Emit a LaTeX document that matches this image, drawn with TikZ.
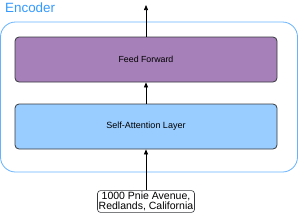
\documentclass[tikz,border=0pt]{standalone}
\usepackage{fontspec}
\setmainfont{Liberation Sans}
\usetikzlibrary{arrows.meta}
\definecolor{encblue}{RGB}{51,153,255}
\definecolor{encline}{RGB}{102,178,255}
\definecolor{ffpurple}{RGB}{166,128,184}
\definecolor{sablue}{RGB}{153,204,255}
\definecolor{boxline}{RGB}{54,57,61}
\begin{document}
\begin{tikzpicture}[x=1pt,y=-1pt,
  layer/.style={draw=boxline,line width=0.8pt,rounded corners=4pt,minimum width=262pt,minimum height=45pt,inner sep=0pt},
  inbox/.style={draw=boxline,line width=0.6pt,rounded corners=3pt,fill=white,align=center,font=\fontsize{10.5}{10.5}\selectfont,inner sep=1.2pt},
  arr/.style={-{Triangle[length=5pt,width=4pt]},line width=0.7pt,black}]
\useasboundingbox (0,0) rectangle (300,218);
\node[draw=encline,line width=0.8pt,rounded corners=15pt,minimum width=297pt,minimum height=150pt,inner sep=0pt] (enc) at (149,97) {};
\node[text=encblue,font=\fontsize{13.4}{13.4}\selectfont,anchor=west,inner sep=0pt] (enclabel) at (5,8) {Encoder};
\node[layer,fill=ffpurple,font=\fontsize{8.8}{8.8}\selectfont] (ff) at (146,59.5) {Feed Forward};
\node[layer,fill=sablue,font=\fontsize{9}{9}\selectfont] (sa) at (146,126.5) {Self-Attention Layer};
\node[inbox] (in) at (146,201.5) {1000 Pnie Avenue,\\Redlands, California};
\coordinate (top) at (146,5);
\draw[arr] (in.north) -- (sa.south);
\draw[arr] (sa.north) -- (ff.south);
\draw[arr] (ff.north) -- (top);
\end{tikzpicture}
\end{document}
